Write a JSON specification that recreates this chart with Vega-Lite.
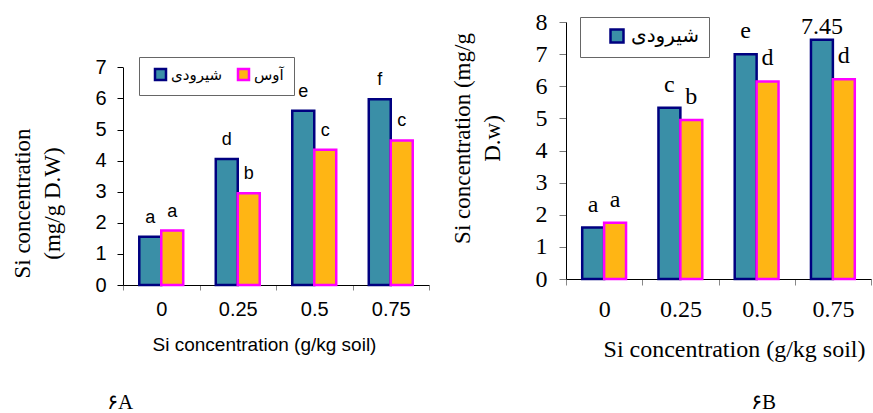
{
  "$schema": "https://vega.github.io/schema/vega-lite/v6.json",
  "padding": {"left": 11, "top": 10, "right": 0, "bottom": 0},
  "spacing": 20,
  "bounds": "full",
  "background": "white",
  "datasets": {
    "A": [
      {"dose": "0", "series": "شیرودی", "value": 1.55, "label": "a"},
      {"dose": "0", "series": "آوس", "value": 1.75, "label": "a"},
      {"dose": "0.25", "series": "شیرودی", "value": 4.05, "label": "d"},
      {"dose": "0.25", "series": "آوس", "value": 2.95, "label": "b"},
      {"dose": "0.5", "series": "شیرودی", "value": 5.6, "label": "e"},
      {"dose": "0.5", "series": "آوس", "value": 4.35, "label": "c"},
      {"dose": "0.75", "series": "شیرودی", "value": 5.97, "label": "f"},
      {"dose": "0.75", "series": "آوس", "value": 4.65, "label": "c"}
    ],
    "B": [
      {"dose": "0", "series": "شیرودی", "value": 1.6, "label": "a"},
      {"dose": "0", "series": "آوس", "value": 1.75, "label": "a"},
      {"dose": "0.25", "series": "شیرودی", "value": 5.33, "label": "c"},
      {"dose": "0.25", "series": "آوس", "value": 4.95, "label": "b"},
      {"dose": "0.5", "series": "شیرودی", "value": 7.0, "label": "e"},
      {"dose": "0.5", "series": "آوس", "value": 6.15, "label": "d"},
      {"dose": "0.75", "series": "شیرودی", "value": 7.45, "label": "7.45"},
      {"dose": "0.75", "series": "آوس", "value": 6.22, "label": "d"}
    ]
  },
  "resolve": {
    "scale": {"fill": "independent", "stroke": "independent", "xOffset": "independent"},
    "legend": {"fill": "independent", "stroke": "independent"}
  },
  "hconcat": [
    {
      "width": 306,
      "height": 263,
      "title": {"text": "۶A", "orient": "bottom", "anchor": "start", "font": "Liberation Serif", "fontSize": 21, "fontWeight": "normal", "color": "black", "offset": 38, "dx": 96},
      "data": {"name": "A"},
      "encoding": {
        "x": {
          "field": "dose", "type": "nominal", "sort": ["0", "0.25", "0.5", "0.75"],
          "scale": {"paddingInner": 0, "paddingOuter": 0},
          "axis": {
            "tickBand": "extent", "tickSize": 5, "tickColor": "#888888", "domainColor": "black",
            "labelAngle": 0, "labelFont": "Liberation Sans", "labelFontSize": 20, "labelColor": "black", "labelPadding": 9,
            "title": "Si concentration (g/kg soil)", "titleFont": "Liberation Sans", "titleFontSize": 19,
            "titleFontWeight": "normal", "titleColor": "black", "titleX": 141, "titleY": 65, "titleBaseline": "alphabetic", "titleAlign": "center"
          }
        },
        "xOffset": {"field": "series", "type": "nominal", "sort": ["شیرودی", "آوس"], "scale": {"paddingInner": 0, "paddingOuter": 0.74}},
        "y": {
          "field": "value", "type": "quantitative",
          "scale": {"domain": [0, 7], "range": [263, 45.3], "nice": false},
          "axis": {
            "values": [0, 1, 2, 3, 4, 5, 6, 7], "grid": false, "tickSize": 6, "tickColor": "black", "domainColor": "black",
            "labelFont": "Liberation Sans", "labelFontSize": 20, "labelColor": "black", "labelPadding": 11,
            "title": ["Si concentration", "(mg/g D.W)"], "titleFont": "Liberation Serif", "titleFontSize": 23,
            "titleFontWeight": "normal", "titleColor": "black", "titleLineHeight": 30,
            "titleX": -101, "titleY": 181, "titleBaseline": "middle", "titleAlign": "center"
          }
        }
      },
      "layer": [
        {
          "mark": {"type": "bar", "strokeWidth": 2.5},
          "encoding": {
            "fill": {
              "field": "series", "type": "nominal",
              "scale": {"domain": ["شیرودی", "آوس"], "range": ["#3A8FA7", "#FFB514"]},
              "legend": {
                "title": null, "orient": "none", "legendX": 16, "legendY": 35, "direction": "horizontal",
                "padding": 10, "columnPadding": 9, "strokeColor": "#666666", "fillColor": "white", "symbolOffset": 4,
                "symbolType": "square", "symbolSize": 121, "symbolStrokeWidth": 2.5, "symbolOpacity": 1,
                "labelFont": "DejaVu Sans", "labelFontSize": 15, "labelColor": "black", "labelOffset": 3
              }
            },
            "stroke": {
              "field": "series", "type": "nominal",
              "scale": {"domain": ["شیرودی", "آوس"], "range": ["#000080", "#FF00FF"]},
              "legend": {
                "title": null, "orient": "none", "legendX": 16, "legendY": 35, "direction": "horizontal",
                "padding": 10, "columnPadding": 9, "strokeColor": "#666666", "fillColor": "white", "symbolOffset": 4,
                "symbolType": "square", "symbolSize": 121, "symbolStrokeWidth": 2.5, "symbolOpacity": 1,
                "labelFont": "DejaVu Sans", "labelFontSize": 15, "labelColor": "black", "labelOffset": 3
              }
            }
          }
        },
        {
          "mark": {"type": "text", "font": "Liberation Sans", "fontSize": 18, "baseline": "alphabetic", "dy": -14, "color": "black"},
          "encoding": {"text": {"field": "label"}}
        }
      ]
    },
    {
      "width": 305,
      "height": 257,
      "title": {"text": "۶B", "orient": "bottom", "anchor": "start", "font": "Liberation Serif", "fontSize": 21, "fontWeight": "normal", "color": "black", "offset": 31, "dx": 300},
      "data": {"name": "B"},
      "encoding": {
        "x": {
          "field": "dose", "type": "nominal", "sort": ["0", "0.25", "0.5", "0.75"],
          "scale": {"paddingInner": 0, "paddingOuter": 0},
          "axis": {
            "tickBand": "extent", "tickSize": 6, "tickColor": "#888888", "domainColor": "black",
            "labelAngle": 0, "labelFont": "Liberation Serif", "labelFontSize": 24, "labelColor": "black", "labelPadding": 12,
            "title": "Si concentration (g/kg soil)", "titleFont": "Liberation Serif", "titleFontSize": 24,
            "titleFontWeight": "normal", "titleColor": "black", "titleX": 168, "titleY": 77, "titleBaseline": "alphabetic", "titleAlign": "center"
          }
        },
        "xOffset": {"field": "series", "type": "nominal", "sort": ["شیرودی", "آوس"], "scale": {"paddingInner": 0, "paddingOuter": 0.74}},
        "y": {
          "field": "value", "type": "quantitative",
          "scale": {"domain": [0, 8], "nice": false},
          "axis": {
            "values": [0, 1, 2, 3, 4, 5, 6, 7, 8], "grid": false, "tickSize": 7, "tickColor": "#777777", "domainColor": "black",
            "labelFont": "Liberation Serif", "labelFontSize": 24, "labelColor": "black", "labelPadding": 12,
            "title": ["Si concentration  (mg/g", "D.w)"], "titleFont": "Liberation Serif", "titleFontSize": 23,
            "titleFontWeight": "normal", "titleColor": "black", "titleLineHeight": 30,
            "titleX": -104, "titleY": 116, "titleBaseline": "middle", "titleAlign": "center"
          }
        }
      },
      "layer": [
        {
          "mark": {"type": "bar", "strokeWidth": 2.5},
          "encoding": {
            "fill": {
              "field": "series", "type": "nominal",
              "scale": {"domain": ["شیرودی", "آوس"], "range": ["#3A8FA7", "#FFB514"]},
              "legend": {
                "title": null, "values": ["شیرودی"], "orient": "none", "legendX": 14, "legendY": -5, "direction": "horizontal",
                "padding": 9, "strokeColor": "#666666", "fillColor": "white", "symbolOffset": 18,
                "symbolType": "square", "symbolSize": 169, "symbolStrokeWidth": 2.5, "symbolOpacity": 1,
                "labelFont": "DejaVu Sans", "labelFontSize": 20, "labelColor": "black", "labelOffset": 4
              }
            },
            "stroke": {
              "field": "series", "type": "nominal",
              "scale": {"domain": ["شیرودی", "آوس"], "range": ["#000080", "#FF00FF"]},
              "legend": {
                "title": null, "values": ["شیرودی"], "orient": "none", "legendX": 14, "legendY": -5, "direction": "horizontal",
                "padding": 9, "strokeColor": "#666666", "fillColor": "white", "symbolOffset": 18,
                "symbolType": "square", "symbolSize": 169, "symbolStrokeWidth": 2.5, "symbolOpacity": 1,
                "labelFont": "DejaVu Sans", "labelFontSize": 20, "labelColor": "black", "labelOffset": 4
              }
            }
          }
        },
        {
          "transform": [{"filter": "datum.label != '7.45'"}],
          "mark": {"type": "text", "font": "Liberation Serif", "fontSize": 24, "baseline": "alphabetic", "dy": -16, "color": "black"},
          "encoding": {"text": {"field": "label"}}
        },
        {
          "transform": [{"filter": "datum.label == '7.45'"}],
          "mark": {"type": "text", "font": "Liberation Serif", "fontSize": 24, "baseline": "alphabetic", "dy": -6, "color": "black"},
          "encoding": {"text": {"field": "label"}}
        }
      ]
    }
  ],
  "config": {
    "view": {"stroke": null},
    "axis": {"grid": false}
  }
}
